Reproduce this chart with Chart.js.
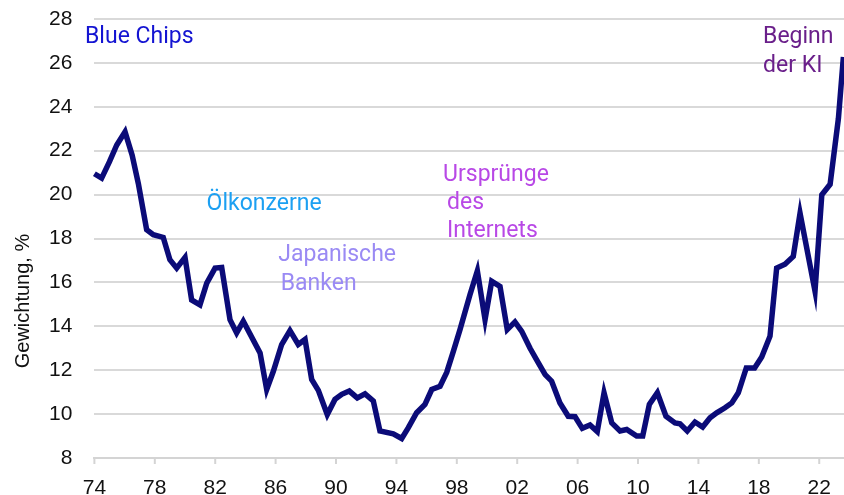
<!DOCTYPE html>
<html>
<head>
<meta charset="utf-8">
<script src="https://cdn.jsdelivr.net/npm/chart.js@4"></script>
<style>
  html, body { margin: 0; padding: 0; background: #fff; }
  #wrap { width: 844px; height: 495px; position: relative; }
</style>
</head>
<body>
<div id="wrap"><canvas id="chart" width="844" height="495"></canvas></div>
<script>
// Jahre (halbjährlich)
const jahre = [
  1974.0, 1974.48, 1975.0, 1975.48, 1976.03, 1976.5, 1976.91, 1977.46, 1977.9, 1978.56,
  1979.0, 1979.45, 1980.0, 1980.44, 1980.99, 1981.44, 1981.99, 1982.43, 1982.98, 1983.42,
  1983.86, 1984.97, 1985.41, 1985.85, 1986.4, 1986.95, 1987.5, 1987.95, 1988.39, 1988.83,
  1989.42, 1989.93, 1990.38, 1990.88, 1991.41, 1991.92, 1992.47, 1992.91, 1993.79, 1994.35,
  1994.79, 1995.34, 1995.89, 1996.34, 1996.89, 1997.33, 1997.77, 1998.21, 1998.87, 1999.36,
  1999.87, 2000.31, 2000.86, 2001.34, 2001.85, 2002.3, 2002.85, 2003.4, 2003.85, 2004.28,
  2004.83, 2005.38, 2005.83, 2006.31, 2006.82, 2007.3, 2007.75, 2008.26, 2008.81, 2009.25,
  2009.91, 2010.31, 2010.75, 2011.28, 2011.85, 2012.45, 2012.78, 2013.26, 2013.77, 2014.28,
  2014.77, 2015.21, 2015.76, 2016.21, 2016.64, 2017.17, 2017.72, 2018.19, 2018.74, 2019.18,
  2019.73, 2020.28, 2020.73, 2021.72, 2022.17, 2022.72, 2023.27, 2023.6
];

// Gewichtung der größten Unternehmen, %
const gewichtung = [
  20.95, 20.75, 21.5, 22.26, 22.86, 21.8, 20.5, 18.4, 18.17, 18.05,
  17.03, 16.65, 17.14, 15.2, 14.98, 15.97, 16.65, 16.68, 14.3, 13.7,
  14.23, 12.79, 11.12, 11.95, 13.17, 13.8, 13.17, 13.4, 11.58, 11.08,
  9.98, 10.67, 10.9, 11.05, 10.74, 10.92, 10.6, 9.23, 9.1, 8.89,
  9.38, 10.06, 10.44, 11.12, 11.27, 11.9, 12.86, 13.85, 15.44, 16.53,
  14.3, 16.05, 15.82, 13.85, 14.2, 13.77, 13.0, 12.33, 11.8, 11.5,
  10.51, 9.9, 9.88, 9.35, 9.5, 9.2, 10.97, 9.6, 9.23, 9.3,
  9.0, 9.0, 10.44, 10.97, 9.9, 9.6, 9.56, 9.23, 9.64, 9.41,
  9.83, 10.06, 10.29, 10.51, 10.97, 12.1, 12.1, 12.6, 13.55, 16.65,
  16.83, 17.18, 19.15, 15.6, 19.99, 20.47, 23.47, 26.27
];

const xTicks = [1974, 1978, 1982, 1986, 1990, 1994, 1998, 2002, 2006, 2010, 2014, 2018, 2022];
const yTicks = [8, 10, 12, 14, 16, 18, 20, 22, 24, 26, 28];

// Beschriftungen: Text, Jahr, Wert (Grundlinie), Farbe
const beschriftungen = [
  { text: 'Blue Chips', x: 1973.38, y: 26.91, farbe: '#1414d2' },
  { text: 'Ölkonzerne', x: 1981.43, y: 19.32, farbe: '#1ca0f2' },
  { text: 'Japanische', x: 1986.18, y: 16.96, farbe: '#9a8af4' },
  { text: 'Banken', x: 1986.34, y: 15.64, farbe: '#9a8af4' },
  { text: 'Ursprünge', x: 1997.09, y: 20.61, farbe: '#b848e6' },
  { text: 'des', x: 1997.35, y: 19.34, farbe: '#b848e6' },
  { text: 'Internets', x: 1997.35, y: 18.06, farbe: '#b848e6' },
  { text: 'Beginn', x: 2018.28, y: 26.91, farbe: '#6a1f8a' },
  { text: 'der KI', x: 2018.28, y: 25.6, farbe: '#6a1f8a' }
];

const textPlugin = {
  id: 'texte',
  afterDraw(chart) {
    const ctx = chart.ctx;
    const xs = chart.scales.x, ys = chart.scales.y;
    ctx.save();
    ctx.font = '23px Roboto, "Noto Sans", sans-serif';
    ctx.textAlign = 'left';
    ctx.textBaseline = 'alphabetic';
    beschriftungen.forEach(b => {
      ctx.fillStyle = b.farbe;
      ctx.fillText(b.text, xs.getPixelForValue(b.x), ys.getPixelForValue(b.y));
    });
    // Achsentitel
    ctx.fillStyle = '#111';
    ctx.font = '20px "Liberation Sans", Arial, sans-serif';
    ctx.translate(23, 301);
    ctx.rotate(-Math.PI / 2);
    ctx.textAlign = 'center';
    ctx.textBaseline = 'middle';
    ctx.fillText('Gewichtung, %', 0, 0);
    ctx.restore();
  }
};

new Chart(document.getElementById('chart'), {
  type: 'line',
  data: {
    datasets: [{
      data: jahre.map((j, i) => ({ x: j, y: gewichtung[i] })),
      borderColor: '#0b0b78',
      borderWidth: 5.5,
      pointRadius: 0,
      tension: 0,
      borderJoinStyle: 'miter',
      clip: false
    }]
  },
  options: {
    responsive: false,
    animation: false,
    layout: { padding: { top: 19, right: 0, left: 0, bottom: 0 } },
    plugins: { legend: { display: false }, tooltip: { enabled: false } },
    scales: {
      x: {
        type: 'linear',
        min: 1974,
        max: 2023.64,
        afterBuildTicks: s => { s.ticks = xTicks.map(v => ({ value: v })); },
        afterFit: s => { s.height = 37; s.paddingLeft = 0; s.paddingRight = 0; },
        grid: { display: false, drawTicks: false },
        border: { color: '#d4d4d4', width: 2 },
        ticks: {
          autoSkip: false,
          maxRotation: 0,
          padding: 18,
          color: '#111',
          font: { family: '"Liberation Sans", Arial, sans-serif', size: 21 },
          callback: v => String(v % 100).padStart(2, '0')
        }
      },
      y: {
        min: 8,
        max: 28,
        afterBuildTicks: s => { s.ticks = yTicks.map(v => ({ value: v })); },
        afterFit: s => { s.width = 94.4; s.paddingTop = 0; s.paddingBottom = 0; },
        grid: { color: '#d9d9d9', lineWidth: 2, drawTicks: false },
        border: { display: false },
        ticks: {
          padding: 22,
          color: '#111',
          font: { family: '"Liberation Sans", Arial, sans-serif', size: 21 }
        }
      }
    }
  },
  plugins: [textPlugin, {
    id: 'xTickMarks',
    afterDraw(chart) {
      const ctx = chart.ctx, xs = chart.scales.x;
      const yb = chart.chartArea.bottom;
      ctx.save();
      ctx.strokeStyle = '#d4d4d4';
      ctx.lineWidth = 2;
      xTicks.forEach(v => {
        const px = xs.getPixelForValue(v);
        ctx.beginPath();
        ctx.moveTo(px, yb);
        ctx.lineTo(px, yb + 6);
        ctx.stroke();
      });
      ctx.restore();
    }
  }]
});
</script>
</body>
</html>
